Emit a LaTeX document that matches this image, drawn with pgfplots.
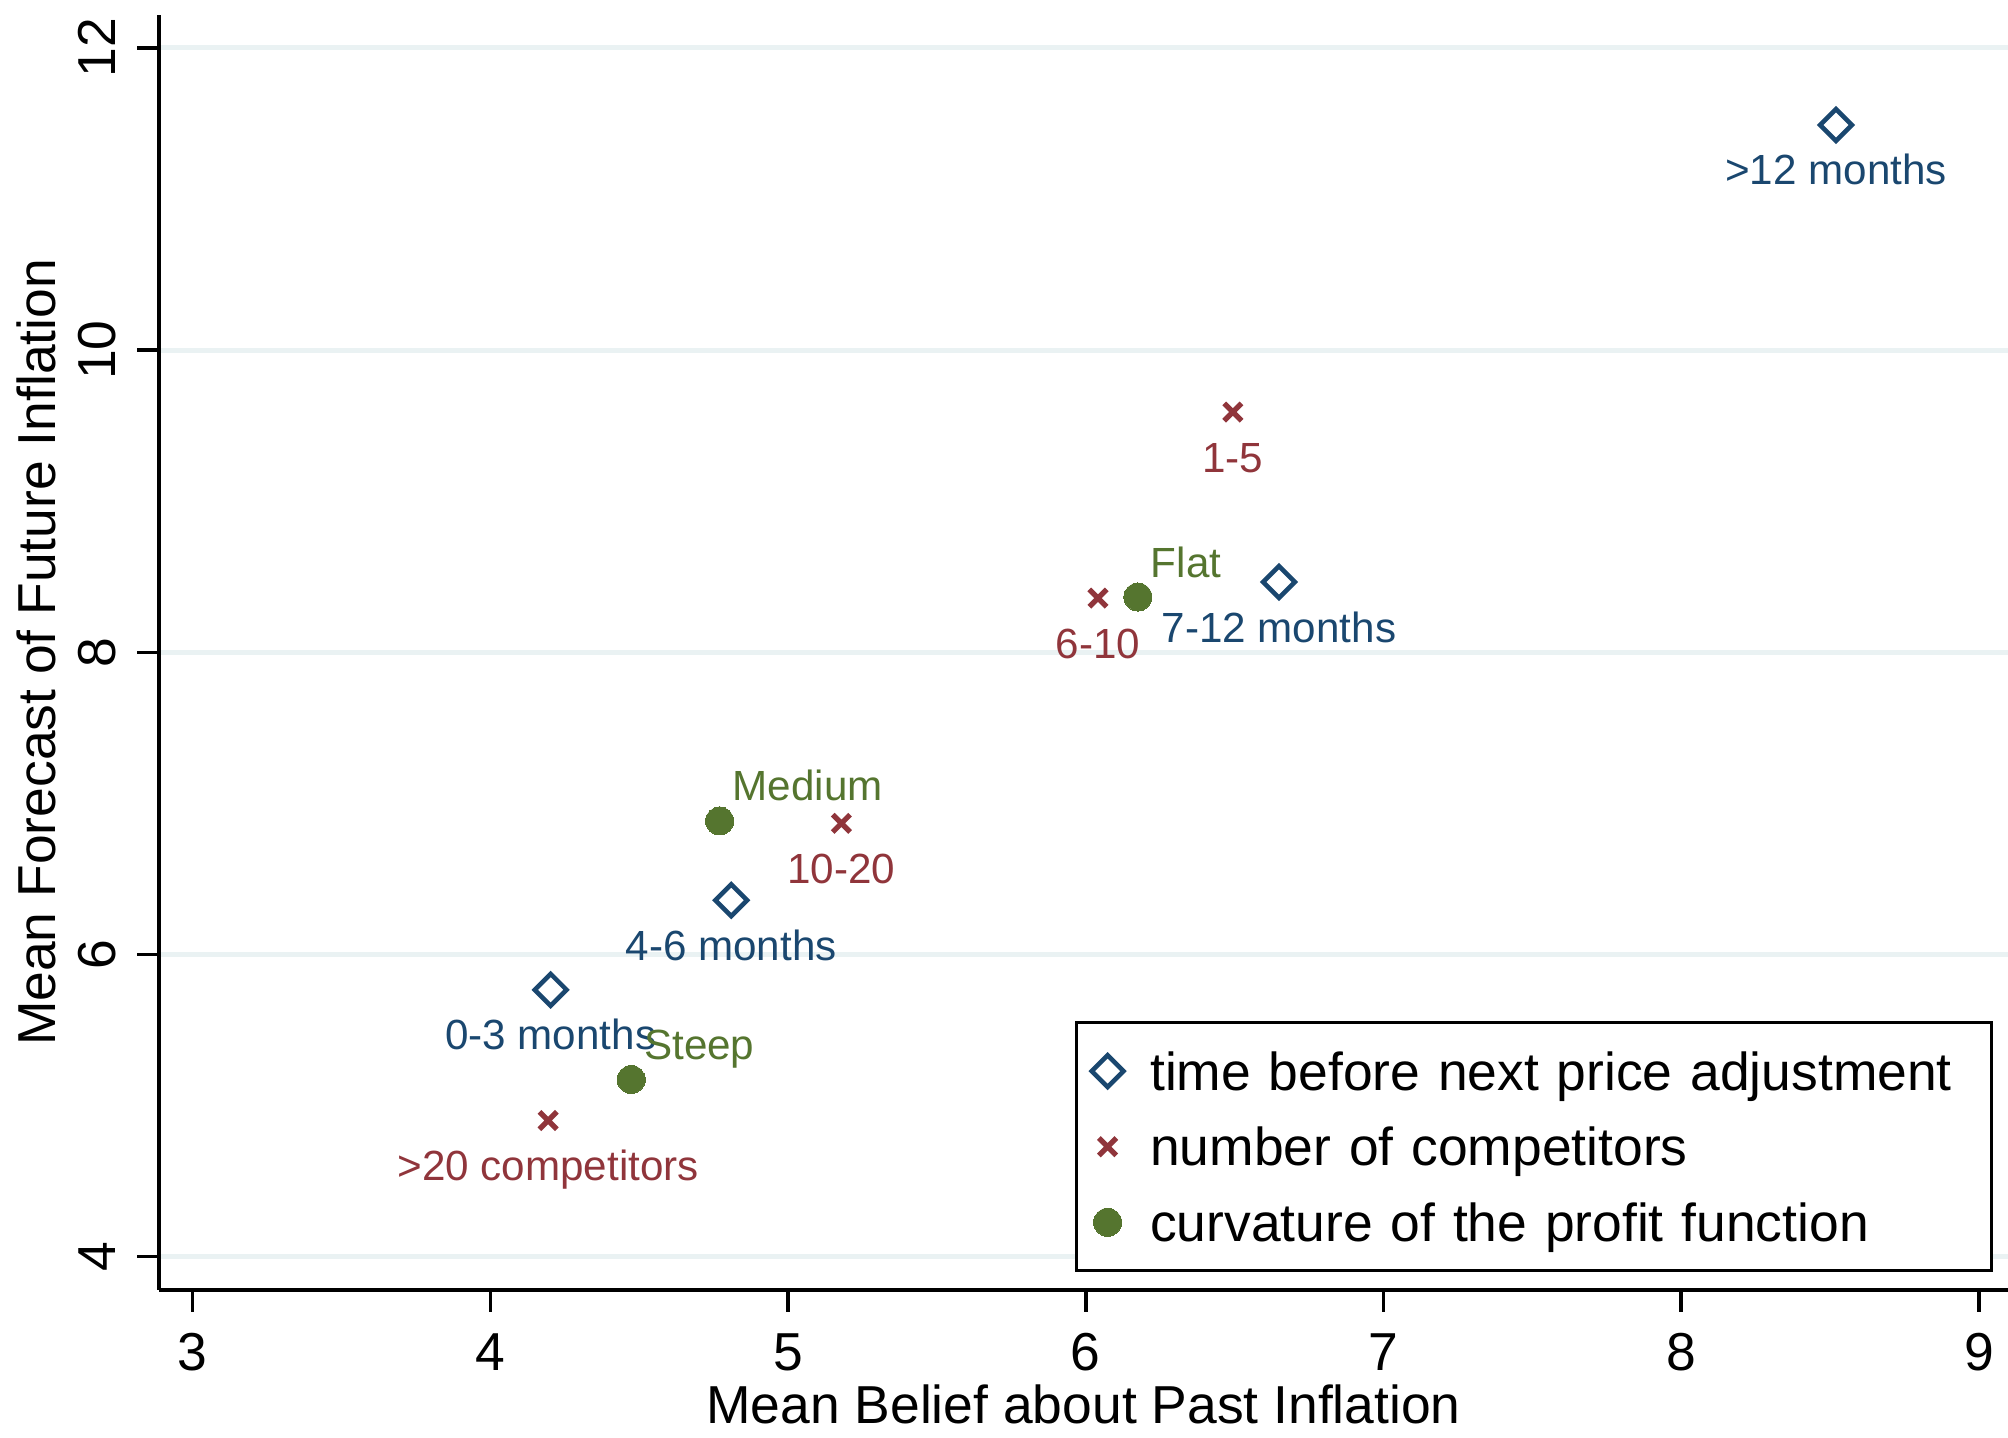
\documentclass[border=0pt]{standalone}
\usepackage{pgfplots}
\pgfplotsset{compat=1.18}
\usepackage{fontspec}
\setmainfont{Liberation Sans}
\usetikzlibrary{plotmarks}
\definecolor{stblue}{RGB}{26,71,111}
\definecolor{stred}{RGB}{144,53,59}
\definecolor{stgreen}{RGB}{85,117,47}
\definecolor{gridc}{RGB}{234,242,243}
\newcommand{\bigfont}{\fontsize{15.2}{18}\selectfont}
\newcommand{\lblfont}{\fontsize{12}{14}\selectfont}
\begin{document}
\begin{tikzpicture}
\useasboundingbox (0,0) rectangle (20.08cm,14.38cm);
\begin{axis}[
  at={(1.59cm,1.48cm)}, anchor=south west,
  scale only axis, width=18.49cm, height=12.75cm,
  xmin=2.8868, xmax=9.0978, ymin=3.7796, ymax=12.218,
  xtick={3,4,5,6,7,8,9}, ytick={4,6,8,10,12},
  axis x line*=bottom, axis y line*=left,
  axis line style={line width=1pt, black},
  tick align=outside, major tick length=0.22cm,
  tick style={line width=1pt, black},
  ymajorgrids, y grid style={line width=1.4pt, gridc},
  clip=false,
  /pgf/number format/assume math mode=true,
  tick label style={font=\bigfont},
  xticklabel style={anchor=base, yshift=-0.59cm},
  yticklabel style={xshift=-0.22cm, rotate=90, anchor=base},
  xlabel={Mean Belief about Past Inflation},
  ylabel={Mean Forecast of Future Inflation},
  every axis x label/.style={at={(axis description cs:0.5,-0.1051)}, anchor=base, font=\bigfont},
  every axis y label/.style={at={(axis description cs:-0.05625,0.5)}, rotate=90, anchor=base, font=\bigfont},
  legend cell align=left,
  legend style={at={(rel axis cs:0.9919,0.0141)}, anchor=south east,
    draw=black, line width=0.8pt, font=\bigfont,
    inner xsep=4.4pt, inner ysep=6.2pt, row sep=6.4pt, column sep=7.6pt,
    nodes={inner sep=0pt, text height=13pt, text depth=2.1pt, text width=235pt, align=left}},
]
\addplot[only marks, mark=square, mark size=3.2pt, color=stblue,
  mark options={line width=1.3pt, rotate=45, solid},
  nodes near coords, point meta=explicit symbolic,
  every node near coord/.style={anchor=base, yshift=-0.60cm, inner sep=0pt, font=\lblfont, text=stblue}]
  coordinates {
  (8.520,11.490) [>12 months]
  (6.649,8.465) [7-12 months]
  (4.809,6.359) [4-6 months]
  (4.2025,5.766) [0-3 months]
  };
\addlegendentry{time before next price adjustment}
\addplot[only marks, mark=x, mark size=3.5pt, color=stred,
  mark options={line width=1.5pt, solid},
  nodes near coords, point meta=explicit symbolic,
  every node near coord/.style={anchor=base, yshift=-0.60cm, inner sep=0pt, font=\lblfont, text=stred}]
  coordinates {
  (6.494,9.590) [1-5]
  (6.041,8.359) [6-10]
  (5.179,6.868) [10-20]
  (4.194,4.901) [>20 competitors]
  };
\addlegendentry{number of competitors}
\addplot[only marks, mark=*, mark size=4pt, color=stgreen,
  mark options={fill=stgreen, draw=stgreen, line width=0pt, solid},
  nodes near coords, point meta=explicit symbolic,
  every node near coord/.style={anchor=base west, xshift=0.13cm, yshift=0.20cm, inner sep=0pt, font=\lblfont, text=stgreen}]
  coordinates {
  (6.175,8.366) [Flat]
  (4.770,6.884) [Medium]
  (4.473,5.173) [Steep]
  };
\addlegendentry{curvature of the profit function}
\end{axis}
\end{tikzpicture}
\end{document}
